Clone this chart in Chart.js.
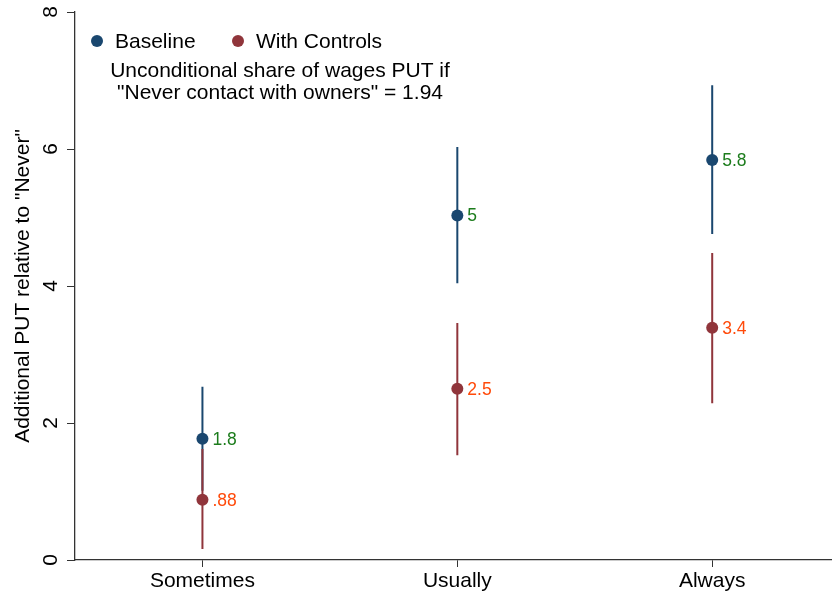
<!DOCTYPE html>
<html>
<head>
<meta charset="utf-8">
<script src="https://cdn.jsdelivr.net/npm/chart.js@4.4.1/dist/chart.umd.min.js"></script>
<style>
  html, body { margin: 0; padding: 0; background: #ffffff; }
  #wrap { width: 832px; height: 596px; }
</style>
</head>
<body>
<div id="wrap"><canvas id="c" width="832" height="596"></canvas></div>
<script>
// ---- Data ----
const categories = ["Sometimes", "Usually", "Always"];
const baselineEst = [1.77, 5.03, 5.84];
const baselineLo  = [1.01, 4.04, 4.76];
const baselineHi  = [2.53, 6.03, 6.93];
const controlsEst = [0.88, 2.50, 3.39];
const controlsLo  = [0.16, 1.53, 2.29];
const controlsHi  = [1.62, 3.46, 4.48];
const baselineLabels = ["1.8", "5", "5.8"];
const controlsLabels = [".88", "2.5", "3.4"];
const yTicks = [0, 2, 4, 6, 8];
const seriesNames = ["Baseline", "With Controls"];
const noteLines = ["Unconditional share of wages PUT if", "\"Never contact with owners\" = 1.94"];
const yTitle = "Additional PUT relative to \"Never\"";

const BLUE = "#1a476f";
const RED = "#90353b";
const GREEN = "#1c7c1c";
const ORANGE = "#ff4a0a";
const FONT = "'Liberation Sans', Arial, sans-serif";

function spikes(lo, hi) {
  const out = [];
  lo.forEach((v, i) => {
    out.push({x: i + 1, y: v});
    out.push({x: i + 1, y: hi[i]});
    out.push({x: i + 1, y: null});
  });
  return out;
}
function points(est) { return est.map((v, i) => ({x: i + 1, y: v})); }

const valueLabelsPlugin = {
  id: 'valueLabels',
  afterDatasetsDraw(chart) {
    const ctx = chart.ctx;
    ctx.save();
    ctx.font = "17.5px " + FONT;
    ctx.textBaseline = "middle";
    ctx.textAlign = "left";
    const specs = [[2, baselineLabels, GREEN], [3, controlsLabels, ORANGE]];
    specs.forEach(([di, labels, col]) => {
      const meta = chart.getDatasetMeta(di);
      meta.data.forEach((el, i) => {
        ctx.fillStyle = col;
        ctx.fillText(labels[i], el.x + 10, el.y + 1);
      });
    });
    ctx.restore();
  }
};

const legendPlugin = {
  id: 'customLegend',
  afterDraw(chart) {
    const ctx = chart.ctx;
    ctx.save();
    ctx.font = "21px " + FONT;
    ctx.textBaseline = "alphabetic";
    ctx.textAlign = "left";
    const items = [[97, BLUE, 115], [238, RED, 256]];
    items.forEach(([cx, col, tx], i) => {
      ctx.beginPath();
      ctx.arc(cx, 41, 6, 0, Math.PI * 2);
      ctx.fillStyle = col;
      ctx.fill();
      ctx.fillStyle = "#000";
      ctx.fillText(seriesNames[i], tx, 48);
    });
    ctx.textAlign = "center";
    ctx.fillText(noteLines[0], 280, 77);
    ctx.fillText(noteLines[1], 280, 99);
    ctx.restore();
  }
};

new Chart(document.getElementById("c"), {
  type: "scatter",
  data: {
    datasets: [
      { label: "Baseline CI", data: spikes(baselineLo, baselineHi), showLine: true, spanGaps: false,
        borderColor: BLUE, borderWidth: 2, pointRadius: 0, order: 4 },
      { label: "Controls CI", data: spikes(controlsLo, controlsHi), showLine: true, spanGaps: false,
        borderColor: RED, borderWidth: 2, pointRadius: 0, order: 3 },
      { label: seriesNames[0], data: points(baselineEst), showLine: false,
        backgroundColor: BLUE, borderWidth: 0, pointRadius: 6, order: 2 },
      { label: seriesNames[1], data: points(controlsEst), showLine: false,
        backgroundColor: RED, borderWidth: 0, pointRadius: 6, order: 1 }
    ]
  },
  options: {
    responsive: false,
    animation: false,
    events: [],
    layout: { autoPadding: false, padding: { top: 12, right: 0, left: 0, bottom: 0 } },
    plugins: { legend: { display: false }, tooltip: { enabled: false } },
    scales: {
      x: {
        type: "linear",
        min: 0.5, max: 3.47,
        afterBuildTicks: (s) => { s.ticks = categories.map((c, i) => ({value: i + 1})); },
        afterFit: (s) => { s.height = 36; s.paddingLeft = 0; s.paddingRight = 0; },
        ticks: {
          callback: (v) => categories[Math.round(v) - 1] || "",
          color: "#000", font: { size: 21, family: FONT }, padding: 2,
          maxRotation: 0, minRotation: 0, autoSkip: false
        },
        grid: { display: true, drawOnChartArea: false, drawTicks: true, tickLength: 7, tickColor: "#333", tickWidth: 1 },
        border: { display: true, color: "#333", width: 1.3 }
      },
      y: {
        type: "linear",
        min: 0, max: 8,
        afterBuildTicks: (s) => { s.ticks = yTicks.map(v => ({value: v})); },
        afterFit: (s) => { s.width = 75; s.paddingTop = 0; s.paddingBottom = 0; },
        ticks: {
          color: "#000", font: { size: 21, family: FONT }, padding: 10,
          minRotation: 90, maxRotation: 90, crossAlign: "center"
        },
        title: { display: true, text: yTitle, color: "#000", font: { size: 21, family: FONT }, padding: { top: 11, bottom: 0 } },
        grid: { display: true, drawOnChartArea: false, drawTicks: true, tickLength: 8, tickColor: "#333", tickWidth: 1 },
        border: { display: true, color: "#333", width: 1.3 }
      }
    }
  },
  plugins: [valueLabelsPlugin, legendPlugin]
});
</script>
</body>
</html>
